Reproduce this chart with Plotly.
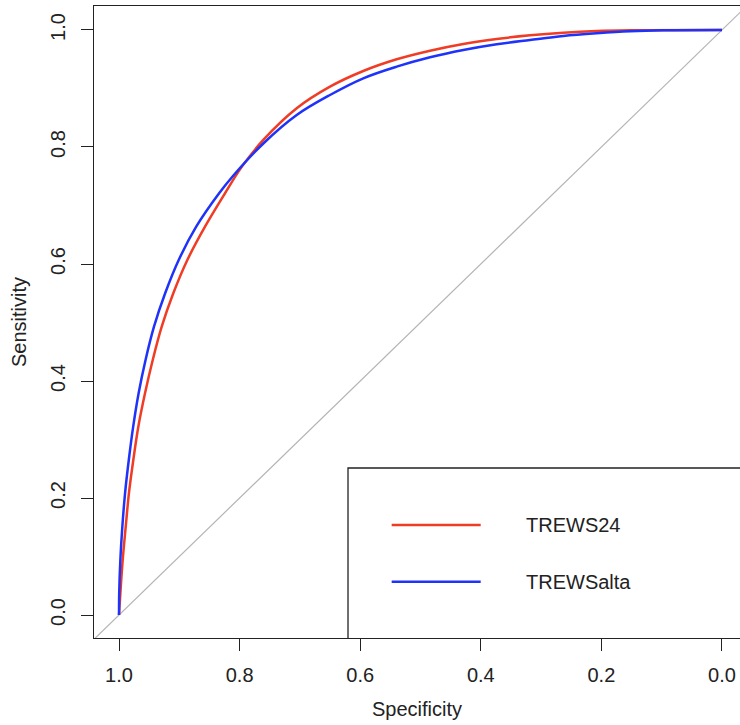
import plotly.graph_objects as go

# ROC curves (specificity, sensitivity)
trews24_spec = [1.0, 0.9978, 0.9939, 0.9889, 0.9836, 0.9763, 0.9680, 0.9569, 0.9441, 0.9292, 0.9100,
                0.8867, 0.8574, 0.8242, 0.7965, 0.7607, 0.7053, 0.6501, 0.5949, 0.5395, 0.4842,
                0.4290, 0.3736, 0.3184, 0.2632, 0.2078, 0.1526, 0.0]
trews24_sens = [0.0, 0.0371, 0.0940, 0.1509, 0.2080, 0.2650, 0.3219, 0.3790, 0.4359, 0.4928, 0.5499,
                0.6068, 0.6638, 0.7209, 0.7660, 0.8120, 0.8662, 0.9031, 0.9299, 0.9499, 0.9646,
                0.9761, 0.9846, 0.9909, 0.9954, 0.9983, 0.9995, 1.0]

trewsalta_spec = [1.0, 0.9997, 0.9978, 0.9945, 0.9900, 0.9838, 0.9765, 0.9675, 0.9560, 0.9420, 0.9235,
                  0.9010, 0.8720, 0.8340, 0.8110, 0.7607, 0.7053, 0.6501, 0.5949, 0.5395,
                  0.4842, 0.4290, 0.3736, 0.3184, 0.2632, 0.2078, 0.1526, 0.0973, 0.0]
trewsalta_sens = [0.0, 0.0371, 0.0940, 0.1509, 0.2080, 0.2650, 0.3219, 0.3790, 0.4359, 0.4928, 0.5499,
                  0.6068, 0.6638, 0.7209, 0.7505, 0.8060, 0.8547, 0.8889, 0.9174, 0.9373,
                  0.9533, 0.9658, 0.9756, 0.9829, 0.9897, 0.9943, 0.9978, 0.9995, 1.0]

diag_spec = [1.1, -0.1]
diag_sens = [-0.1, 1.1]

tick_vals = [1.0, 0.8, 0.6, 0.4, 0.2, 0.0]
tick_text = ["1.0", "0.8", "0.6", "0.4", "0.2", "0.0"]

RED = "#F03C24"
BLUE = "#1E32FA"
FONT = "Liberation Sans, Arial, sans-serif"
FS = 20

fig = go.Figure()
fig.add_trace(go.Scatter(x=diag_spec, y=diag_sens, mode="lines",
                         line=dict(color="#B4B4B4", width=1.2), showlegend=False, hoverinfo="skip"))
fig.add_trace(go.Scatter(x=trews24_spec, y=trews24_sens, mode="lines", name="TREWS24",
                         line=dict(color=RED, width=2.5, shape="spline", smoothing=1.0), showlegend=False))
fig.add_trace(go.Scatter(x=trewsalta_spec, y=trewsalta_sens, mode="lines", name="TREWSalta",
                         line=dict(color=BLUE, width=2.5, shape="spline", smoothing=1.0), showlegend=False))

# Legend box (manual, R-style; its right edge lies beyond the picture)
fig.add_shape(type="path", xref="paper", yref="paper",
              path="M 0.3932,0 L 0.3932,0.269 L 1.0,0.269",
              line=dict(color="#222222", width=1.3))
legend_items = [("TREWS24", RED, 0.1788), ("TREWSalta", BLUE, 0.0891)]
for label, col, yp in legend_items:
    fig.add_shape(type="line", xref="paper", yref="paper", x0=0.4608, x1=0.5986, y0=yp, y1=yp,
                  line=dict(color=col, width=2.5))
    fig.add_annotation(xref="paper", yref="paper", x=0.6656, y=yp, text=label, showarrow=False,
                       xanchor="left", yanchor="middle", font=dict(size=FS, color="#222222", family=FONT))

fig.update_layout(
    width=740, height=725,
    margin=dict(l=94, r=0, t=6, b=87),
    plot_bgcolor="white", paper_bgcolor="white",
    font=dict(family=FONT, size=FS, color="#222222"),
)
fig.update_xaxes(range=[1.0415, -0.0299], tickvals=tick_vals, ticktext=tick_text,
                 showgrid=False, zeroline=False, showline=True, mirror=True,
                 linecolor="#222222", linewidth=1.3, ticks="outside", ticklen=12,
                 tickcolor="#222222", tickwidth=1.3, ticklabelstandoff=7,
                 title=dict(text="Specificity", font=dict(size=FS), standoff=16))
fig.update_yaxes(range=[-0.0393, 1.041], tickvals=tick_vals, ticktext=tick_text,
                 showgrid=False, zeroline=False, showline=True, mirror=False,
                 linecolor="#222222", linewidth=1.3, ticks="outside", ticklen=12,
                 tickcolor="#222222", tickwidth=1.3, tickangle=-90, ticklabelstandoff=8,
                 title=dict(text="Sensitivity", font=dict(size=FS), standoff=14))

fig.write_html("out.html", config={"displayModeBar": False},
               post_script="document.body.style.margin='0';document.body.style.overflow='hidden';")
